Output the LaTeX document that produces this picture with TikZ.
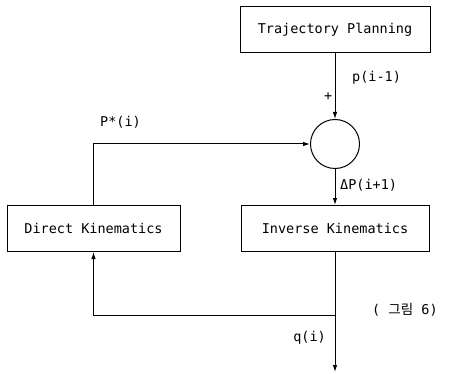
\documentclass[tikz,border=0pt]{standalone}
\usepackage{fontspec}
\setmonofont{DejaVu Sans Mono}
\newfontfamily\krfont{Noto Sans CJK KR}
\usetikzlibrary{arrows.meta, positioning, calc}

\begin{document}
\begin{tikzpicture}[x=1pt, y=-1pt]
	\tikzset{
		block/.style = {draw, line width=1pt, minimum height=46pt, inner sep=0pt, font={\ttfamily\fontsize{13.5}{16}\selectfont}},
		label/.style = {font={\ttfamily\fontsize{13.5}{16}\selectfont}, anchor=west, inner sep=0pt},
		arrow/.style = {-{Latex[length=7pt, width=4.5pt]}, line width=1pt},
	}
	\useasboundingbox (0,0) rectangle (452,374);

	\node[block, minimum width=190pt] (plan) at (335,29.5) {Trajectory Planning};
	\node[circle, draw, line width=1pt, minimum size=49pt, inner sep=0pt] (sum) at (335,144) {};
	\node[block, minimum width=173pt] (direct) at (93.5,228.5) {Direct Kinematics};
	\node[block, minimum width=188pt] (inverse) at (335,228.5) {Inverse Kinematics};

	\coordinate (split) at (335,315);
	\coordinate (out) at (335,372);

	\draw[arrow] (plan) -- (sum);
	\draw[arrow] (sum) -- (inverse);
	\draw[arrow] (direct.north) |- (sum.west);
	\draw[arrow] (inverse.south) -- (out);
	\draw[arrow] (split) -| (direct.south);

	% signal labels
	\node[label] (lp) at (352,78) {p(i-1)};
	\node[label] (lplus) at (324,97) {+};
	\node[label] (lpstar) at (100,122) {P*(i)};
	\node[label] (ldelta) at (340,185) {ΔP(i+1)};
	\node[label, anchor=east] (lq) at (326,338) {q(i)};
	\node[label] (lfig) at (372,310) {( {\krfont 그림} 6)};
\end{tikzpicture}
\end{document}
